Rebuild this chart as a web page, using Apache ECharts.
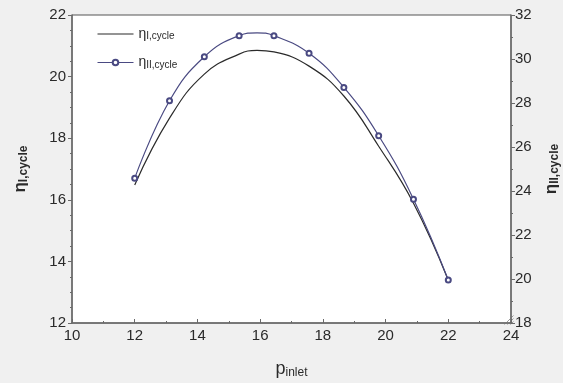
<!DOCTYPE html>
<html>
<head>
<meta charset="utf-8">
<script src="https://cdn.jsdelivr.net/npm/echarts@6/dist/echarts.min.js"></script>
<style>
html,body{margin:0;padding:0;background:#f0f0f0;}
#c{width:563px;height:383px;}
</style>
</head>
<body>
<div id="c"></div>
<script>
// Data
const pInlet = [12, 13.11, 14.22, 15.33, 15.9, 16.44, 17.56, 18.67, 19.78, 20.89, 22];
const etaI = [16.48, 18.65, 20.08, 20.73, 20.85, 20.80, 20.34, 19.37, 17.74, 15.89, 13.39];
const etaII = [24.58, 28.10, 30.10, 31.06, 31.19, 31.06, 30.26, 28.71, 26.51, 23.63, 19.96];
// marker shown on computed points only (the 15.9 point is the curve's peak)
const etaIIMarked = [true, true, true, true, false, true, true, true, true, true, true];
const xTicks = [10, 12, 14, 16, 18, 20, 22, 24];
const yLeftTicks = [12, 14, 16, 18, 20, 22];
const yRightTicks = [18, 20, 22, 24, 26, 28, 30, 32];

const FONT = 'Liberation Sans, Arial, sans-serif';
const txt = '#2a2a2a';
const axisCol = '#6a6a6a';

const chart = echarts.init(document.getElementById('c'), null, {renderer: 'canvas'});

chart.setOption({
  backgroundColor: '#f0f0f0',
  animation: false,
  textStyle: {fontFamily: FONT},
  grid: {
    left: 72, right: 52, top: 15, bottom: 60,
    outerBoundsMode: 'none', containLabel: false,
    show: true, backgroundColor: '#ffffff', borderColor: '#555555', borderWidth: 1
  },
  legend: {
    orient: 'vertical',
    left: 92, top: 22,
    itemWidth: 36, itemHeight: 7, itemGap: 14,
    lineStyle: {width: 1},
    data: [
      {name: 'etaI', icon: 'path://M0,0 L36,0 L36,1 L0,1 Z'},
      {name: 'etaII'}
    ],
    formatter: function (n) {
      return n === 'etaI' ? '{e|η}{s|I,cycle}' : '{e|η}{s|II,cycle}';
    },
    textStyle: {
      color: txt,
      rich: {
        e: {fontSize: 14, fontFamily: FONT, color: txt},
        s: {fontSize: 10, fontFamily: FONT, color: txt, padding: [5, 0, 0, 0]}
      }
    }
  },
  xAxis: {
    type: 'value', min: xTicks[0], max: xTicks[xTicks.length - 1], interval: 2,
    name: '{p|p}{s|inlet}', nameLocation: 'middle', nameGap: 36,
    nameTextStyle: {
      rich: {
        p: {fontSize: 18, fontFamily: FONT, color: txt},
        s: {fontSize: 12, fontFamily: FONT, color: txt, padding: [8, 0, 0, 0]}
      }
    },
    axisLine: {show: true, onZero: false, lineStyle: {color: axisCol, width: 1.5}},
    axisTick: {show: true, inside: true, length: 4, lineStyle: {color: axisCol}},
    minorTick: {show: true, splitNumber: 2, length: 2, lineStyle: {color: axisCol}},
    axisLabel: {fontSize: 15, color: txt, margin: 5, fontFamily: FONT},
    splitLine: {show: false}
  },
  yAxis: [
    {
      type: 'value', position: 'left', min: yLeftTicks[0], max: yLeftTicks[yLeftTicks.length - 1], interval: 2,
      name: '{e|η}{s|I,cycle}', nameLocation: 'middle', nameGap: 42, nameRotate: 90,
      nameTextStyle: {
        rich: {
          e: {fontSize: 17, fontWeight: 'bold', fontFamily: FONT, color: txt},
          s: {fontSize: 12, fontWeight: 'bold', fontFamily: FONT, color: txt, padding: [7, 0, 0, 0]}
        }
      },
      axisLine: {show: true, onZero: false, lineStyle: {color: axisCol, width: 1.5}},
      axisTick: {show: true, inside: false, length: 4, lineStyle: {color: axisCol}},
      minorTick: {show: true, splitNumber: 4, length: 2, lineStyle: {color: axisCol}},
      axisLabel: {fontSize: 15, color: txt, margin: 6, fontFamily: FONT},
      splitLine: {show: false}
    },
    {
      type: 'value', position: 'right', min: yRightTicks[0], max: yRightTicks[yRightTicks.length - 1], interval: 2,
      name: '{e|η}{s|II,cycle}', nameLocation: 'middle', nameGap: 31, nameRotate: 90,
      nameTextStyle: {
        rich: {
          e: {fontSize: 17, fontWeight: 'bold', fontFamily: FONT, color: txt},
          s: {fontSize: 12, fontWeight: 'bold', fontFamily: FONT, color: txt, padding: [7, 0, 0, 0]}
        }
      },
      axisLine: {show: true, onZero: false, lineStyle: {color: axisCol, width: 1.5}},
      axisTick: {show: true, inside: false, length: 4, lineStyle: {color: axisCol}},
      minorTick: {show: true, splitNumber: 2, length: 2, lineStyle: {color: axisCol}},
      axisLabel: {fontSize: 15, color: txt, margin: 4, fontFamily: FONT},
      splitLine: {show: false}
    }
  ],
  series: [
    {
      name: 'etaI', type: 'line', yAxisIndex: 0,
      data: pInlet.map((x, i) => [x, etaI[i]]), smooth: 0.45,
      showSymbol: false, symbol: 'none',
      lineStyle: {color: '#2b2b2b', width: 1.2},
      itemStyle: {color: '#2b2b2b'}
    },
    {
      name: 'etaII', type: 'line', yAxisIndex: 1,
      data: pInlet.map((x, i) => ({value: [x, etaII[i]], symbol: etaIIMarked[i] ? 'emptyCircle' : 'none'})),
      smooth: 0.45,
      symbol: 'emptyCircle', symbolSize: 5,
      lineStyle: {color: '#4a4a82', width: 1.2},
      itemStyle: {color: '#4a4a82', borderWidth: 1}
    }
  ],
  graphic: [
    {type: 'line', left: 502, top: 313, shape: {x1: 9, y1: 0, x2: 0, y2: 9}, style: {stroke: '#999', lineWidth: 1}},
    {type: 'line', left: 505, top: 316, shape: {x1: 6, y1: 0, x2: 0, y2: 6}, style: {stroke: '#999', lineWidth: 1}},
    {type: 'line', left: 508, top: 319, shape: {x1: 3, y1: 0, x2: 0, y2: 3}, style: {stroke: '#999', lineWidth: 1}}
  ]
});
</script>
</body>
</html>
